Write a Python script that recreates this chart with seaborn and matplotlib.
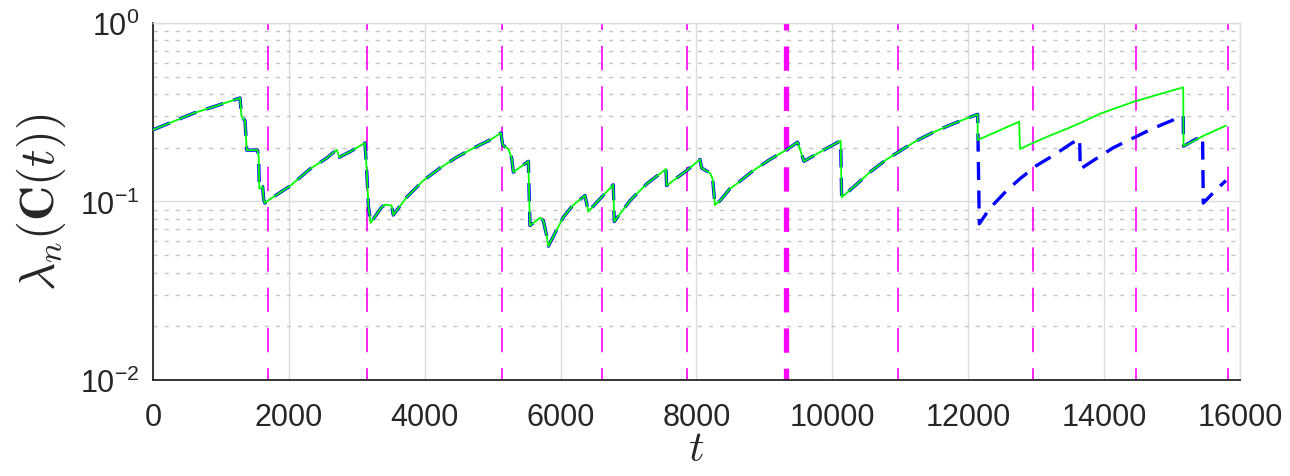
import numpy as np
import pandas as pd
import matplotlib
matplotlib.use("Agg")
import matplotlib.pyplot as plt
import seaborn as sns
from matplotlib.ticker import FixedLocator, LogLocator, NullFormatter

# common trajectory of both runs (they coincide until t ~ 12140)
t_shared = [0, 593, 937, 1280, 1305, 1355, 1380, 1537, 1555, 1565, 1614, 1629, 1648,
            1713, 1820, 2016, 2311, 2556, 2703, 2742, 2900, 3120, 3145, 3170, 3204,
            3366, 3415, 3513, 3537, 3734, 3979, 4225, 4470, 4715, 4960, 5122, 5147,
            5230, 5280, 5304, 5525, 5549, 5696, 5745, 5795, 5819, 6040, 6187, 6359,
            6408, 6579, 6775, 6790, 7021, 7267, 7551, 7561, 7855, 8051, 8076, 8198,
            8238, 8272, 8346, 8493, 8591, 8836, 9082, 9327, 9489, 9582, 9817, 10122,
            10137, 10308, 10553, 10799, 11044, 11240, 11485, 11731, 11977, 12139]
lam_shared = [0.252, 0.312, 0.344, 0.380, 0.298, 0.284, 0.194, 0.194, 0.181, 0.118, 0.121,
              0.1025, 0.098, 0.1025, 0.109, 0.122, 0.152, 0.175, 0.195, 0.177, 0.190,
              0.213, 0.152, 0.0948, 0.0759, 0.093, 0.096, 0.0948, 0.084, 0.1057, 0.131,
              0.154, 0.177, 0.199, 0.221, 0.242, 0.207, 0.197, 0.175, 0.146, 0.168,
              0.0733, 0.0810, 0.0783, 0.0645, 0.0562, 0.0817, 0.0957, 0.108, 0.0878,
              0.1034, 0.124, 0.0772, 0.101, 0.1255, 0.152, 0.1228, 0.149, 0.172, 0.154,
              0.1445, 0.134, 0.0957, 0.101, 0.118, 0.1255, 0.149, 0.172, 0.195, 0.215,
              0.168, 0.189, 0.219, 0.1057, 0.120, 0.146, 0.172, 0.197, 0.219, 0.244,
              0.268, 0.292, 0.308]

# solid (green) run after the split
t_green_tail = [12140, 12751, 12761, 12957, 13202, 13448, 13693, 13939, 14454, 14822,
                15165, 15170, 15480, 15793]
lam_green_tail = [0.221, 0.280, 0.197, 0.213, 0.234, 0.255, 0.280, 0.310, 0.364, 0.400,
                  0.436, 0.204, 0.235, 0.266]

# dashed (blue) run after the split
t_blue_tail = [12163, 12320, 12565, 12761, 13006, 13252, 13522, 13640, 13650, 13840,
               14135, 14380, 14675, 14896, 15141, 15165, 15170, 15337, 15450, 15460,
               15656, 15793]
lam_blue_tail = [0.075, 0.0917, 0.115, 0.134, 0.159, 0.181, 0.212, 0.225, 0.152, 0.1695,
                 0.200, 0.222, 0.252, 0.274, 0.299, 0.302, 0.204, 0.222, 0.232, 0.098,
                 0.117, 0.131]

# event times (vertical markers); the emphasised one is drawn thicker
event_times = [1700, 3156, 5135, 6604, 7854, 10962, 12953, 14470, 15818]
main_event = 9320

x_ticks = [0, 2000, 4000, 6000, 8000, 10000, 12000, 14000, 16000]
y_ticks = [1e-2, 1e-1, 1e0]
y_tick_labels = [r"$\mathregular{10^{-2}}$", r"$\mathregular{10^{-1}}$", r"$\mathregular{10^{0}}$"]

sns.set_style("white")
plt.rcParams["font.family"] = ["Liberation Sans", "DejaVu Sans"]
plt.rcParams["mathtext.fontset"] = "cm"
plt.rcParams["lines.scale_dashes"] = False

green = pd.DataFrame({"t": t_shared + t_green_tail, "lam": lam_shared + lam_green_tail})
blue = pd.DataFrame({"t": t_shared + t_blue_tail, "lam": lam_shared + lam_blue_tail})

fig = plt.figure(figsize=(12.9, 4.77), dpi=100)
ax = fig.add_axes([0.1186, 0.2013, 0.8426, 0.7484])

ax.set_yscale("log")
ax.set_xlim(0, 16000)
ax.set_ylim(1e-2, 1e0)

# grid: solid major lines, dotted minor lines on the log axis
ax.grid(which="major", axis="both", color="#dcdcdc", lw=1.0, ls="-", zorder=0)
ax.yaxis.set_minor_locator(LogLocator(base=10, subs=np.arange(2, 10)))
ax.yaxis.set_minor_formatter(NullFormatter())
ax.grid(which="minor", axis="y", color="#c4c4c4", lw=1.0, ls=(0, (3, 5)), zorder=0)

# vertical event markers
marker_dash = (9, (17.5, 11.5))
for te in event_times:
    ax.axvline(te, color="#ff00ff", lw=1.2, ls=marker_dash, zorder=2)
ax.axvline(main_event, color="#ff00ff", lw=3.8, ls=marker_dash, zorder=2)

sns.lineplot(data=blue, x="t", y="lam", ax=ax, color="#0000ff", lw=2.4,
             estimator=None, zorder=3)
ax.lines[-1].set_linestyle((0, (13, 7.5)))
sns.lineplot(data=green, x="t", y="lam", ax=ax, color="#00ff00", lw=1.3,
             estimator=None, zorder=4)

ax.xaxis.set_major_locator(FixedLocator(x_ticks))
ax.set_xticklabels([str(v) for v in x_ticks])
ax.yaxis.set_major_locator(FixedLocator(y_ticks))
ax.set_yticklabels(y_tick_labels)

ax.tick_params(axis="both", which="major", direction="in", length=6, width=1,
               color="#262626", labelsize=22, labelcolor="#262626")
ax.tick_params(axis="x", which="major", pad=16)
ax.tick_params(axis="y", which="major", pad=10)
ax.tick_params(axis="y", which="minor", direction="in", length=4, width=1, color="#262626")

for side in ("top", "right"):
    ax.spines[side].set_color("#dcdcdc")
    ax.spines[side].set_linewidth(1.0)
for side in ("left", "bottom"):
    ax.spines[side].set_color("#262626")
    ax.spines[side].set_linewidth(1.3)

ax.set_xlabel(r"$t$", fontsize=31, labelpad=-2, color="#262626")
ax.set_ylabel(r"$\lambda_n(\mathbf{C}(t))$", fontsize=35, labelpad=8, color="#262626")

fig.savefig("out.png", dpi=100)
